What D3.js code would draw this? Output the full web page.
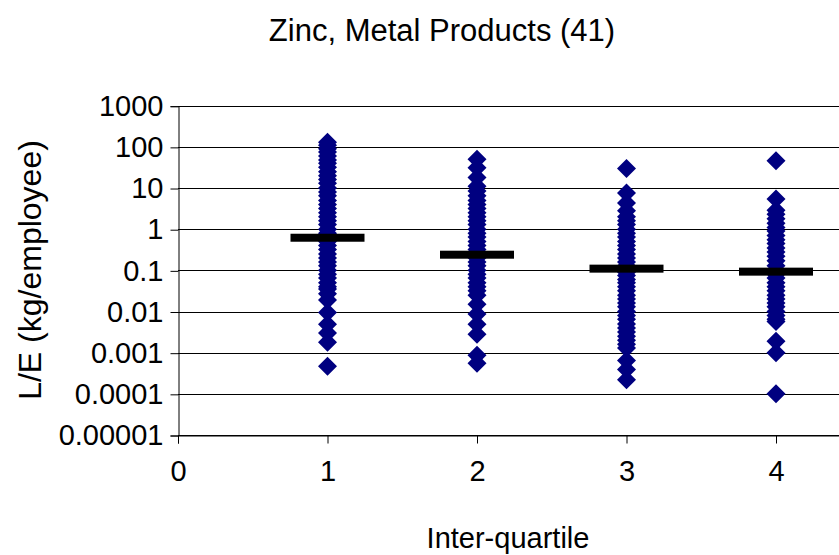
<!DOCTYPE html>
<html>
<head>
<meta charset="utf-8">
<script src="https://cdn.jsdelivr.net/npm/d3@7"></script>
<style>
  body { margin: 0; background: #fff; }
  text { font-family: "Liberation Sans", Arial, sans-serif; fill: #000; }
</style>
</head>
<body>
<svg width="839" height="555"></svg>
<script>
var svg = d3.select("svg"),
    width = +svg.attr("width"),
    height = +svg.attr("height");

// values, one list per inter-quartile group
var group1 = [130, 110, 90, 75, 60, 48, 40, 32, 25, 20, 16, 13, 10, 8, 6.5, 5, 4, 3.2, 2.5, 2,
    1.6, 1.3, 1, 0.8, 0.65, 0.5, 0.4, 0.32, 0.25, 0.2, 0.16, 0.13, 0.1, 0.08, 0.065, 0.05, 0.04,
    0.035, 0.027, 0.019, 0.0095, 0.0049, 0.003, 0.0018, 0.00047];
var group2 = [50, 31, 18, 11, 8.5, 6.5, 5, 4, 3.2, 2.5, 2, 1.6, 1.3, 1, 0.8, 0.65, 0.5, 0.4,
    0.32, 0.25, 0.2, 0.16, 0.13, 0.1, 0.08, 0.065, 0.05, 0.04, 0.032, 0.025, 0.015, 0.0087,
    0.0049, 0.0028, 0.00087, 0.00055];
var group3 = [30, 7.6, 4.3, 2.8, 2, 1.6, 1.3, 1, 0.8, 0.65, 0.5, 0.4, 0.32, 0.25, 0.2, 0.16,
    0.13, 0.11, 0.09, 0.075, 0.06, 0.05, 0.04, 0.032, 0.025, 0.02, 0.016, 0.013, 0.01, 0.008,
    0.0065, 0.005, 0.004, 0.0032, 0.0025, 0.002, 0.0016, 0.0013, 0.00065, 0.00039, 0.00022];
var group4 = [46, 5.4, 2.9, 2.3, 1.8, 1.4, 1.1, 0.9, 0.7, 0.55, 0.45, 0.35, 0.28, 0.22, 0.17,
    0.13, 0.1, 0.08, 0.065, 0.05, 0.04, 0.032, 0.025, 0.02, 0.016, 0.013, 0.01, 0.008, 0.0065,
    0.0057, 0.0019, 0.001, 0.0001];
var groupMeans = [0.62, 0.24, 0.11, 0.093];

var xTicks = [0, 1, 2, 3, 4];
var yTicks = [1000, 100, 10, 1, 0.1, 0.01, 0.001, 0.0001, 0.00001];
var yTickLabels = ["1000", "100", "10", "1", "0.1", "0.01", "0.001", "0.0001", "0.00001"];

var groups = [group1, group2, group3, group4];
var points = [];
groups.forEach(function (g, i) {
    g.forEach(function (v) { points.push({ x: i + 1, y: v }); });
});

var plotLeft = 178, plotTop = 105.7, plotBottom = 435;

// x axis runs to 5, the right part falls outside the picture
var x = d3.scaleLinear().domain([0, 5]).range([plotLeft, plotLeft + 5 * 149.5]);
var y = d3.scaleLog().domain([0.00001, 1000]).range([plotBottom, plotTop]);

// gridlines
svg.append("g")
    .attr("class", "grid")
    .selectAll("line")
    .data(yTicks)
    .enter().append("line")
    .attr("x1", plotLeft)
    .attr("x2", x(5))
    .attr("y1", function (d) { return Math.round(y(d)) + 0.5; })
    .attr("y2", function (d) { return Math.round(y(d)) + 0.5; })
    .attr("stroke", "#000")
    .attr("stroke-width", 1);

// y axis
var yAxis = svg.append("g")
    .attr("transform", "translate(" + (plotLeft + 0.5) + ",0.5)")
    .call(d3.axisLeft(y).tickValues(yTicks)
        .tickFormat(function (d, i) { return yTickLabels[i]; })
        .tickSize(8).tickPadding(7));
yAxis.select(".domain").attr("stroke", "#000");
yAxis.selectAll(".tick line").attr("stroke", "#000");
yAxis.selectAll("text").style("font-size", "29px")
    .attr("font-family", "Liberation Sans, Arial, sans-serif");

// x axis
var xAxis = svg.append("g")
    .attr("transform", "translate(0," + (Math.round(plotBottom) + 0.5) + ")")
    .call(d3.axisBottom(x).tickValues(xTicks).tickSize(8).tickPadding(17)
        .tickFormat(d3.format("d")));
xAxis.select(".domain").attr("stroke", "#000");
xAxis.selectAll(".tick line").attr("stroke", "#000");
xAxis.selectAll("text").style("font-size", "29px")
    .attr("font-family", "Liberation Sans, Arial, sans-serif");

// points
var diamond = "M0,-9.5L9.5,0L0,9.5L-9.5,0Z";
svg.append("g")
    .selectAll("path")
    .data(points)
    .enter().append("path")
    .attr("d", diamond)
    .attr("transform", function (d) { return "translate(" + x(d.x) + "," + y(d.y) + ")"; })
    .attr("fill", "#000080");

// group means
svg.append("g")
    .selectAll("rect")
    .data(groupMeans)
    .enter().append("rect")
    .attr("x", function (d, i) { return x(i + 1) - 37; })
    .attr("y", function (d) { return y(d) - 4; })
    .attr("width", 74)
    .attr("height", 8)
    .attr("fill", "#000");

// titles
svg.append("text")
    .attr("x", 442)
    .attr("y", 41)
    .attr("text-anchor", "middle")
    .style("font-size", "31px")
    .text("Zinc, Metal Products (41)");

svg.append("text")
    .attr("x", 508)
    .attr("y", 548)
    .attr("text-anchor", "middle")
    .style("font-size", "29px")
    .text("Inter-quartile");

svg.append("text")
    .attr("transform", "translate(41,270) rotate(-90)")
    .attr("text-anchor", "middle")
    .style("font-size", "32px")
    .text("L/E (kg/employee)");
</script>
</body>
</html>
